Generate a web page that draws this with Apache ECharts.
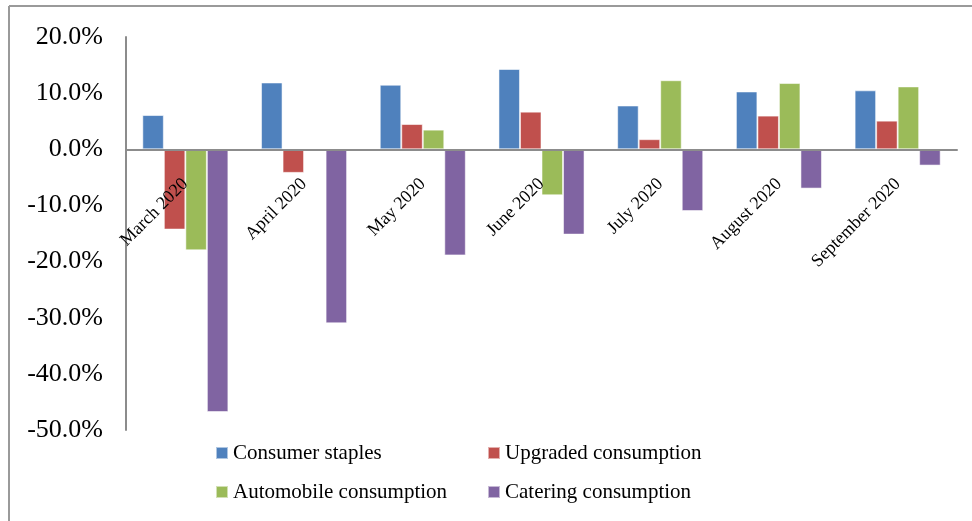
<!DOCTYPE html>
<html>
<head>
<meta charset="utf-8">
<script src="https://cdn.jsdelivr.net/npm/echarts@6/dist/echarts.min.js"></script>
<style>
 html, body { margin: 0; padding: 0; background: #fff; }
 #chart1 { width: 972px; height: 521px; }
</style>
</head>
<body>
<div id="chart1"></div>
<script>
var months = ['March 2020', 'April 2020', 'May 2020', 'June 2020', 'July 2020', 'August 2020', 'September 2020'];
var staples = [6.1, 11.9, 11.5, 14.3, 7.8, 10.3, 10.5];
var upgraded = [-14.3, -4.2, 4.5, 6.7, 1.8, 6.0, 5.1];
var automobile = [-18.0, 0, 3.5, -8.2, 12.3, 11.8, 11.2];
var catering = [-46.8, -31.0, -18.9, -15.2, -11.0, -7.0, -2.9];
var yTicks = [-50, -40, -30, -20, -10, 0, 10, 20];

var dom = document.getElementById("chart1");
var myChart = echarts.init(dom);
var font = '"Liberation Serif", "Times New Roman", serif';

// grid box
var gTop = 37, gBottom = 91, H = 521;
var yMin = yTicks[0], yMax = yTicks[yTicks.length - 1];
var plotH = H - gTop - gBottom;
// lift the category axis up to the 0 line
var zeroOffset = -plotH * (0 - yMin) / (yMax - yMin);

function bar(name, data, color) {
 return {
	 name: name,
	 type: 'bar',
	 data: data,
	 barGap: 0,
	 barCategoryGap: '27.5%',
	 itemStyle: { color: color, borderColor: 'rgba(255,255,255,0.55)', borderWidth: 1 }
 };
}

var legendText = { fontFamily: font, fontSize: 21, color: '#000', lineHeight: 24 };

var option = {
 animation: false,
 backgroundColor: '#fff',
 graphic: [
	 { type: 'line', shape: { x1: 9, y1: 6, x2: 972, y2: 6 }, style: { stroke: '#9a9a9a', lineWidth: 2 } },
	 { type: 'line', shape: { x1: 9, y1: 6, x2: 9, y2: 521 }, style: { stroke: '#9a9a9a', lineWidth: 2 } }
 ],
 legend: [
	 {
		 left: 215, top: 441, orient: 'vertical', padding: 0, itemGap: 15,
		 itemWidth: 12, itemHeight: 12, icon: 'rect',
		 textStyle: legendText,
		 data: ['Consumer staples', 'Automobile consumption']
	 },
	 {
		 left: 487, top: 441, orient: 'vertical', padding: 0, itemGap: 15,
		 itemWidth: 12, itemHeight: 12, icon: 'rect',
		 textStyle: legendText,
		 data: ['Upgraded consumption', 'Catering consumption']
	 }
 ],
 grid: { left: 126, right: 15, top: gTop, bottom: gBottom, containLabel: false, outerBoundsMode: 'none' },
 xAxis: {
	 type: 'category',
	 data: months,
	 position: 'bottom',
	 offset: zeroOffset,
	 axisLine: { onZero: false, lineStyle: { color: '#8c8c8c', width: 2 } },
	 axisTick: { show: false },
	 axisLabel: { rotate: 45, margin: 32, fontFamily: font, fontSize: 18, color: '#000', interval: 0 },
	 z: 5
 },
 yAxis: {
	 type: 'value',
	 min: yMin,
	 max: yMax,
	 interval: 10,
	 axisLine: { show: true, lineStyle: { color: '#8c8c8c', width: 2 } },
	 axisTick: { show: false },
	 splitLine: { show: false },
	 axisLabel: {
		 margin: 23, fontFamily: font, fontSize: 26, color: '#000',
		 formatter: function (v) { return v.toFixed(1) + '%'; }
	 }
 },
 series: [
	 bar('Consumer staples', staples, '#4F81BD'),
	 bar('Upgraded consumption', upgraded, '#C0504D'),
	 bar('Automobile consumption', automobile, '#9BBB59'),
	 bar('Catering consumption', catering, '#8064A2')
 ]
};

myChart.setOption(option);
</script>
</body>
</html>
